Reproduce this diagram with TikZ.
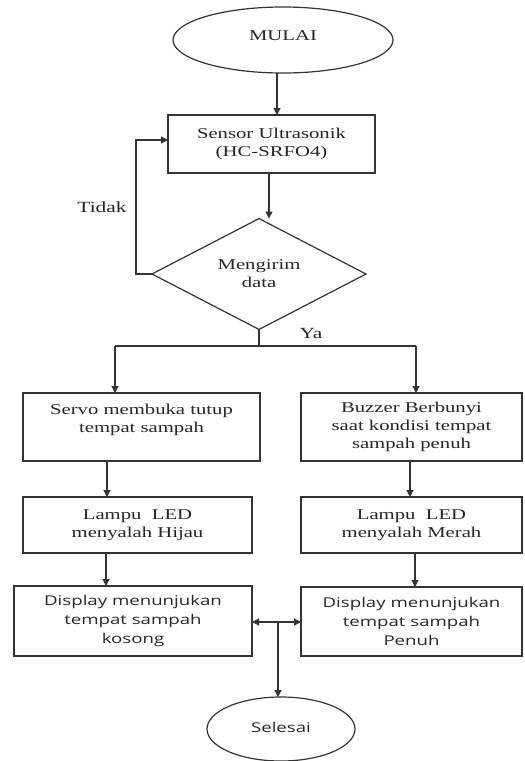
\documentclass[tikz,border=0pt]{standalone}
\usepackage{fontspec}
\usetikzlibrary{shapes.geometric,arrows.meta}
\newfontfamily\serifst[FakeStretch=1.38]{Liberation Serif}
\newfontfamily\sansst[FakeStretch=1.38]{Open Sans}
\begin{document}
\begin{tikzpicture}[x=1pt,y=-1pt,
  every node/.style={inner sep=0pt, outer sep=0pt, text=black!85},
  ln/.style={draw=black!80, line width=1.2pt},
  arr/.style={ln, -{Triangle[length=7pt,width=7pt]}},
  darr/.style={ln, {Triangle[length=7pt,width=7pt]}-{Triangle[length=7pt,width=7pt]}},
  boxs/.style={draw=black!80, line width=1.2pt, rectangle, align=center,
     font=\serifst\fontsize{15}{18}\selectfont},
  boxd/.style={draw=black!80, line width=1.2pt, rectangle, align=center,
     font=\sansst\fontsize{13.5}{19}\selectfont},
  term/.style={draw=black!80, line width=1.2pt, ellipse, align=center},
  lbl/.style={font=\serifst\fontsize{15.5}{18}\selectfont}
]
\useasboundingbox (0,0) rectangle (525,761);

\node[term, minimum width=220pt, minimum height=66pt,
      font=\serifst\fontsize{15}{18}\selectfont] (start) at (283,40) {\raisebox{8pt}{MULAI}};

\node[boxs, minimum width=207pt, minimum height=58pt] (sensor) at (271.5,144)
  {Sensor Ultrasonik\\(HC-SRFO4)};

\node[draw=black!80, line width=1.2pt, diamond, minimum width=214pt, minimum height=96pt,
      align=center, font=\serifst\fontsize{15}{18}\selectfont] (dec) at (259,274)
  {Mengirim\\data};

\node[boxs, minimum width=237pt, minimum height=68pt] (servo) at (141.5,427)
  {Servo membuka tutup\\tempat sampah\\\mbox{}};
\node[boxs, minimum width=221pt, minimum height=68pt] (buzz) at (411.5,427)
  {Buzzer Berbunyi\\saat kondisi tempat\\sampah penuh};

\node[boxs, minimum width=229pt, minimum height=56pt] (hijau) at (137.5,525)
  {Lampu\ \ LED\\menyalah Hijau};
\node[boxs, minimum width=221pt, minimum height=56pt] (merah) at (411.5,525)
  {Lampu\ \ LED\\menyalah Merah};

\node[boxd, minimum width=238pt, minimum height=70pt] (dispL) at (133,621)
  {Display menunjukan\\tempat sampah\\kosong};
\node[boxd, minimum width=221pt, minimum height=69pt] (dispR) at (411.5,621.5)
  {Display menunjukan\\tempat sampah\\Penuh};

\node[term, minimum width=148pt, minimum height=64pt,
      font=\sansst\fontsize{13.5}{19}\selectfont] (end) at (281,729) {\raisebox{3pt}{Selesai}};

% labels
\node[lbl] (tidak) at (102,207) {Tidak};
\node[lbl] (ya) at (311,333) {Ya};

% connectors
\coordinate (a1) at (277,0);
\draw[arr] (start.south -| a1) -- (sensor.north -| a1);
\coordinate (a2) at (269,0);
\draw[arr] (sensor.south -| a2) -- (dec.north -| a2);

\coordinate (lp) at (136,274);
\coordinate (lt) at (136,140);
\draw[arr] (dec.west) -- (lp) -- (lt) -- (sensor.west |- lt);

\coordinate (j) at (259,346);
\coordinate (bl) at (115,346);
\coordinate (br) at (416,346);
\draw[ln] (dec.south) -- (j);
\draw[ln] (bl) -- (br);
\draw[arr] (bl) -- (servo.north -| bl);
\draw[arr] (br) -- (buzz.north -| br);

\coordinate (c1) at (107,0);
\draw[arr] (servo.south -| c1) -- (hijau.north -| c1);
\coordinate (c2) at (410,0);
\draw[arr] (buzz.south -| c2) -- (merah.north -| c2);
\coordinate (c3) at (106,0);
\draw[arr] (hijau.south -| c3) -- (dispL.north -| c3);
\coordinate (c4) at (415,0);
\draw[arr] (merah.south -| c4) -- (dispR.north -| c4);

\coordinate (m) at (278,622);
\draw[arr] (m) -- (dispL.east |- m);
\draw[arr] (m) -- (dispR.west |- m);
\draw[arr] (m) -- (end.north -| m);
\end{tikzpicture}
\end{document}
